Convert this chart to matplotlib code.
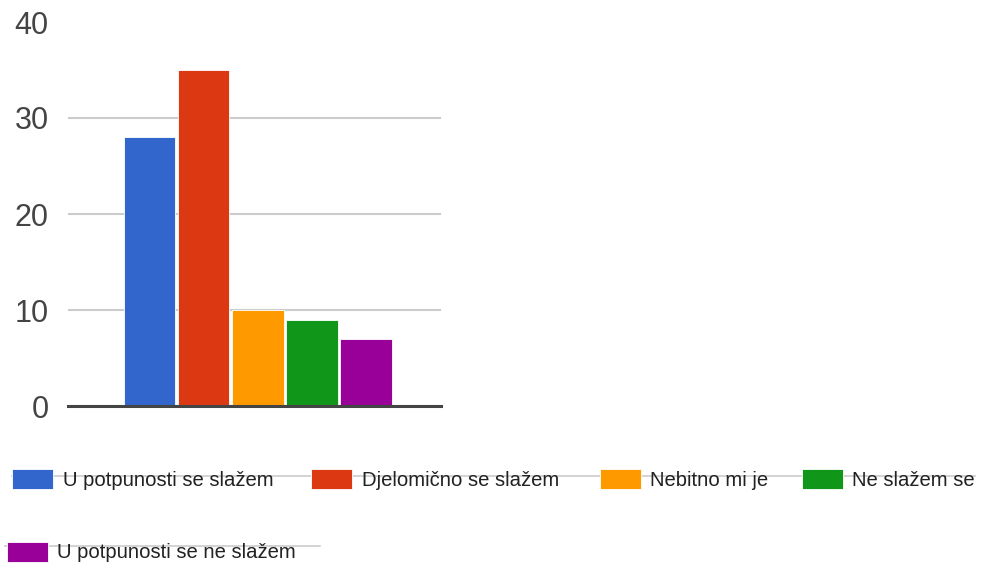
import matplotlib.pyplot as plt
import matplotlib.patches as mpatches
from matplotlib.lines import Line2D

# Data
labels = ['U potpunosti se slažem', 'Djelomično se slažem', 'Nebitno mi je',
          'Ne slažem se', 'U potpunosti se ne slažem']
values = [28, 35, 10, 9, 7]
colors = ['#3366cc', '#dc3912', '#ff9900', '#109618', '#990099']
yticks = [0, 10, 20, 30, 40]

W, H = 981, 563
fig = plt.figure(figsize=(W / 100, H / 100), dpi=100)
plt.rcParams['font.family'] = ['Liberation Sans', 'DejaVu Sans']

# axes placed in pixel terms (left, bottom from top-left coordinates)
ax_l, ax_r, ax_top, ax_bot = 68, 441, 22, 406
ax = fig.add_axes([ax_l / W, 1 - ax_bot / H, (ax_r - ax_l) / W, (ax_bot - ax_top) / H])

x = list(range(len(values)))
ax.bar(x, values, width=0.95, color=colors, edgecolor='white', linewidth=0.6, zorder=3)
ax.set_xlim(-1.5, 5.38)
ax.set_ylim(0, 40)

for g in yticks[1:-1]:
    ax.axhline(g, color='#cccccc', linewidth=1.5, zorder=1)
ax.axhline(0, color='#444444', linewidth=2.2, zorder=4, clip_on=False)

for s in ax.spines.values():
    s.set_visible(False)
ax.set_xticks([])
ax.set_yticks(yticks)
ax.set_yticklabels([str(t) for t in yticks])
ax.tick_params(axis='y', length=0, pad=14, labelsize=22, labelcolor='#444444')

# Legend, drawn by hand in pixel coordinates
def px(xp, yp):
    return xp / W, 1 - yp / H

rows = [
    # (line from, line to, line y, items: (swatch x, swatch top, text x))
    (12, 975, 476, [(12, 469, 63), (311, 469, 362), (600, 469, 650), (802, 469, 852)]),
    (5, 320, 546, [(7, 542, 57)]),
]
idx = 0
for x0, x1, ly, items in rows:
    fig.add_artist(Line2D([x0 / W, x1 / W], [1 - ly / H, 1 - ly / H],
                          color='#cccccc', linewidth=1.2, zorder=1))
    for sx, sy, tx in items:
        fig.add_artist(mpatches.Rectangle(px(sx, sy + 20), 41 / W, 20 / H,
                                          facecolor=colors[idx], edgecolor='white',
                                          linewidth=0.6, zorder=2))
        fig.text(*px(tx, sy + 11), labels[idx], fontsize=14.6, color='#222222',
                 va='center', ha='left', zorder=3)
        idx += 1

fig.savefig('out.png', dpi=100)
